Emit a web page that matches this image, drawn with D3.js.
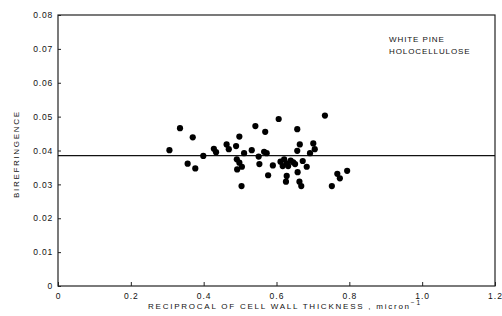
<!DOCTYPE html>
<html>
<head>
<meta charset="utf-8">
<script src="https://cdn.jsdelivr.net/npm/d3@7"></script>
<style>
body{margin:0;background:#fff;}
text{font-family:"Liberation Sans",Arial,sans-serif;fill:#111;}
</style>
</head>
<body>
<div id="chart"></div>
<script>
var w=502;
var h=316;

// reciprocal of cell wall thickness (micron^-1)
var thickness=[0.306,0.335,0.370,0.356,0.377,0.399,0.428,0.434,0.463,0.469,0.489,0.498,0.491,0.498,0.505,0.492,0.511,0.504,
0.532,0.542,0.569,0.566,0.573,0.551,0.553,0.577,0.590,0.606,0.611,0.621,0.628,0.639,0.646,0.651,0.617,0.632,
0.657,0.664,0.657,0.672,0.683,0.658,0.628,0.626,0.663,0.668,0.701,0.705,0.692,0.733,0.767,0.774,0.752,0.794];
// birefringence
var biref=[0.0401,0.0466,0.0439,0.0361,0.0347,0.0384,0.0405,0.0395,0.0418,0.0404,0.0413,0.0441,0.0374,0.0364,0.0352,0.0344,0.0392,0.0295,
0.0401,0.0472,0.0455,0.0396,0.0392,0.0382,0.0360,0.0327,0.0356,0.0493,0.0367,0.0374,0.0362,0.0370,0.0365,0.0360,0.0354,0.0354,
0.0463,0.0418,0.0399,0.0369,0.0352,0.0336,0.0325,0.0308,0.0308,0.0295,0.0421,0.0404,0.0392,0.0503,0.0331,0.0318,0.0295,0.0340];
var meanBiref=0.0385;
var xTicks=[0,0.2,0.4,0.6,0.8,1.0,1.2];
var xTickLabels=["0","0.2","0.4","0.6","0.8","1.0","1.2"];
var yTicks=[0,0.01,0.02,0.03,0.04,0.05,0.06,0.07,0.08];
var yTickLabels=["0","0.01","0.02","0.03","0.04","0.05","0.06","0.07","0.08"];
var noteLines=["WHITE PINE","HOLOCELLULOSE"];

var padL=58,padR=495,padT=15,padB=286;

var xScale=d3.scaleLinear().domain([0,1.2]).range([padL,padR]);
var yScale=d3.scaleLinear().domain([0,0.08]).range([padB,padT]);

var svg=d3.select("#chart").append("svg")
 .attr("width",w)
 .attr("height",h);

//frame
svg.append("rect")
 .attr("x",padL)
 .attr("y",padT)
 .attr("width",padR-padL)
 .attr("height",padB-padT)
 .attr("fill","none")
 .attr("stroke","#222")
 .attr("stroke-width",1.2);

//x axis
var xAxis=svg.append("g")
 .attr("transform","translate(0,"+padB+")")
 .call(d3.axisTop(xScale).tickValues(xTicks).tickSize(4).tickFormat(function(d,i){return xTickLabels[i];}));
xAxis.select(".domain").remove();
xAxis.selectAll("line").attr("stroke","#222");
xAxis.selectAll("text")
 .attr("y",10)
 .attr("dy","0.35em")
 .attr("font-size",8.5)
 .attr("letter-spacing",1)
 .attr("fill","#111");

//y axis
var yAxis=svg.append("g")
 .attr("transform","translate("+padL+",0)")
 .call(d3.axisRight(yScale).tickValues(yTicks).tickSize(3).tickFormat(function(d,i){return yTickLabels[i];}));
yAxis.select(".domain").remove();
yAxis.selectAll("line").attr("stroke","#222");
yAxis.selectAll("text")
 .attr("x",-5)
 .attr("text-anchor","end")
 .attr("font-size",8.5)
 .attr("letter-spacing",0.8)
 .attr("fill","#111");

//axis titles
var xTitle=svg.append("text")
 .attr("x",148)
 .attr("y",309)
 .attr("font-size",8)
 .attr("textLength",272)
 .attr("lengthAdjust","spacing");
xTitle.append("tspan").text("RECIPROCAL OF CELL WALL THICKNESS , micron");
xTitle.append("tspan").attr("dy",-4).attr("font-size",6.5).text("\u22121");

svg.append("text")
 .attr("transform","translate(19,"+155+") rotate(-90)")
 .attr("text-anchor","middle")
 .attr("font-size",8)
 .attr("textLength",86)
 .attr("lengthAdjust","spacing")
 .text("BIREFRINGENCE");

//note
svg.selectAll(".note")
 .data(noteLines)
 .enter().append("text")
 .attr("class","note")
 .attr("x",389)
 .attr("y",function(d,i){return 42+i*12;})
 .attr("font-size",8)
 .attr("letter-spacing",0.9)
 .text(function(d){return d;});

//mean line
svg.append("line")
 .attr("x1",padL)
 .attr("x2",padR)
 .attr("y1",yScale(meanBiref))
 .attr("y2",yScale(meanBiref))
 .attr("stroke","#111")
 .attr("stroke-width",1.4);

//points
var pts=thickness.map(function(d,i){return {x:d,y:biref[i]};});
svg.selectAll(".pt")
 .data(pts)
 .enter().append("circle")
 .attr("class","pt")
 .attr("cx",function(d){return xScale(d.x);})
 .attr("cy",function(d){return yScale(d.y);})
 .attr("r",3.1)
 .attr("fill","#000");
</script>
</body>
</html>
